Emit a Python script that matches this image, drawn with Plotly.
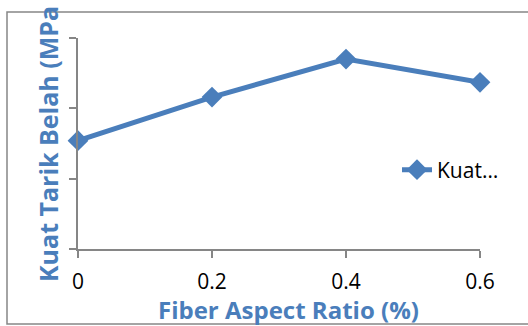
import plotly.graph_objects as go

fiber_ratio = [0, 0.2, 0.4, 0.6]
kuat_tarik = [1.54, 2.16, 2.70, 2.37]
x_ticks = [0, 0.2, 0.4, 0.6]
x_tick_labels = ["0", "0.2", "0.4", "0.6"]
y_ticks = [0, 1, 2, 3]

BLUE = "#4A7EBB"
GRAY = "#868686"
FONT = "Open Sans, Liberation Sans, sans-serif"

W, H = 528, 326
L, R, T, B = 78, 48, 38, 77
pw, ph = W - L - R, H - T - B

def px(xp):
    return (xp - L) / pw

def py(yp):
    return (H - B - yp) / ph

fig = go.Figure()
fig.add_trace(go.Scatter(
    x=fiber_ratio, y=kuat_tarik, mode="lines+markers", name="Kuat…",
    line=dict(color=BLUE, width=5),
    marker=dict(symbol="diamond", size=16, color=BLUE),
    cliponaxis=False,
))

fig.update_layout(
    width=W, height=H,
    margin=dict(l=L, r=R, t=T, b=B),
    paper_bgcolor="white", plot_bgcolor="white",
    font=dict(family=FONT, size=21, color="black"),
    xaxis=dict(range=[0, 0.6], tickvals=x_ticks, ticktext=x_tick_labels,
               showgrid=False, zeroline=False, showline=True, linecolor=GRAY, linewidth=1.5,
               ticks="outside", ticklen=7, tickcolor=GRAY, tickwidth=1.5,
               ticklabelstandoff=6,
               tickfont=dict(size=21), fixedrange=True),
    yaxis=dict(range=[0, 3], tickvals=y_ticks, showticklabels=False,
               showgrid=False, zeroline=False, showline=True, linecolor=GRAY, linewidth=1.5,
               ticks="outside", ticklen=7, tickcolor=GRAY, tickwidth=1.5, fixedrange=True),
    showlegend=True,
    legend=dict(x=px(397), y=py(170), xanchor="left", yanchor="middle",
                font=dict(size=21), bgcolor="rgba(0,0,0,0)"),
    shapes=[dict(type="rect", xref="paper", yref="paper",
                 x0=px(7), x1=px(532), y0=py(324), y1=py(12),
                 line=dict(color=GRAY, width=1.5))],
    annotations=[
        dict(text="<b>Fiber Aspect Ratio (%)</b>", xref="paper", yref="paper",
             x=px(288), y=py(309), xanchor="center", yanchor="middle", showarrow=False,
             font=dict(size=24, color=BLUE, family=FONT)),
        dict(text="<b>Kuat Tarik Belah (MPa</b>", xref="paper", yref="paper",
             x=px(48), y=py(284), xanchor="center", yanchor="bottom", showarrow=False,
             textangle=-90,
             font=dict(size=25, color=BLUE, family=FONT)),
    ],
)

fig.write_html("out.html", config={"displayModeBar": False},
               post_script="document.body.style.margin='0';document.body.style.padding='0';")
